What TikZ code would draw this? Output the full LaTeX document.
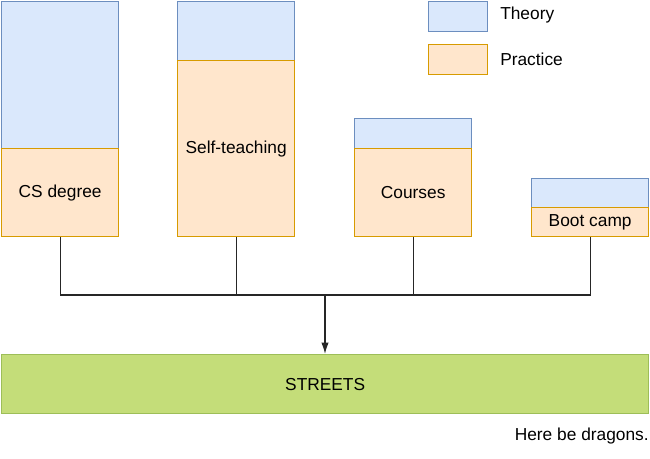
\documentclass[tikz,border=0pt]{standalone}
\usepackage{fontspec}
\setmainfont{Liberation Sans}
\usetikzlibrary{arrows.meta}

\tikzset{
  caja/.style={draw, line width=1pt, inner sep=0pt, anchor=north west,
    minimum width=87.75pt, font=\fontsize{13}{15}\selectfont},
  teoria/.style={caja, fill=teoriaF, draw=teoriaB},
  practica/.style={caja, fill=practicaF, draw=practicaB},
  calle/.style={caja, fill=calleF, draw=calleB, minimum width=485.25pt, minimum height=44.25pt},
  leyenda/.style={anchor=west, inner sep=0pt, font=\fontsize{13}{15}\selectfont},
  linea/.style={line width=1pt, black!85}
}
\definecolor{teoriaF}{HTML}{DAE8FC}
\definecolor{teoriaB}{HTML}{6C8EBF}
\definecolor{practicaF}{HTML}{FFE6CC}
\definecolor{practicaB}{HTML}{D79B00}
\definecolor{calleF}{HTML}{C4DD79}
\definecolor{calleB}{HTML}{9DBE58}

\begin{document}
\begin{tikzpicture}[x=0.75pt, y=-0.75pt]
  \useasboundingbox (0, 0) rectangle (650, 458);

  % Columnas
  \node[teoria, minimum height=110.25pt] (csT) at (1, 1) {};
  \node[practica, minimum height=66pt] (csP) at (1, 148) {CS degree};
  \node[teoria, minimum height=44.25pt] (selfT) at (177, 1) {};
  \node[practica, minimum height=132pt] (selfP) at (177, 60) {Self-teaching};
  \node[teoria, minimum height=22.5pt] (courT) at (354, 118) {};
  \node[practica, minimum height=66pt] (courP) at (354, 148) {Courses};
  \node[teoria, minimum height=21.75pt] (bootT) at (531, 178) {};
  \node[practica, minimum height=21.75pt] (bootP) at (531, 207) {Boot camp};

  % Leyenda
  \node[teoria, minimum width=44.25pt, minimum height=22.5pt] (legT) at (428, 1) {};
  \node[leyenda] (legTtxt) at (500, 15) {Theory};
  \node[practica, minimum width=44.25pt, minimum height=22.5pt] (legP) at (428, 44) {};
  \node[leyenda] (legPtxt) at (500, 59) {Practice};

  % Destino
  \node[calle] (calle) at (1, 354) {STREETS};
  \node[anchor=east, inner sep=0pt, font=\fontsize{13}{15}\selectfont] (dragones) at (649, 436) {Here be dragons.};

  % Conectores
  \coordinate (bus) at (325, 295);
  \draw[linea] (csP.south) |- (bus);
  \draw[linea] (bootP.south) |- (bus);
  \draw[linea] (selfP.south) -- (selfP.south |- bus);
  \draw[linea] (courP.south) -- (courP.south |- bus);
  \draw[linea, -{Latex[length=8.5pt, width=5.5pt]}] (bus) -- (bus |- calle.north);
\end{tikzpicture}
\end{document}
